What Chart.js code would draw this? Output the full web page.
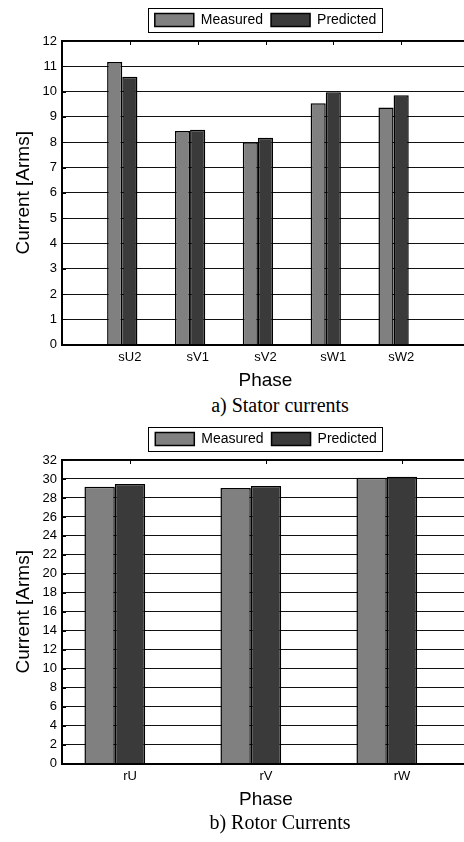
<!DOCTYPE html>
<html>
<head>
<meta charset="utf-8">
<script src="https://cdn.jsdelivr.net/npm/chart.js@4.4.1/dist/chart.umd.min.js"></script>
<style>
  html, body { margin: 0; padding: 0; background: #fff; overflow: hidden; width: 464px; height: 842px; }
  .panel { position: absolute; left: 0; }
  canvas { display: block; }
  .caption {
    position: absolute; left: 0; width: 560px; text-align: center;
    font-family: "Liberation Serif", "Times New Roman", serif; font-size: 20px; line-height: 24px; color: #000;
  }
</style>
</head>
<body>
<div class="panel" style="top:0"><canvas id="statorChart" width="474" height="392"></canvas></div>
<div class="caption" style="top:393px">a) Stator currents</div>
<div class="panel" style="top:419px"><canvas id="rotorChart" width="474" height="392"></canvas></div>
<div class="caption" style="top:810px">b) Rotor Currents</div>

<script>
// Stator currents (A rms) per phase
const statorPhases = ['sU2', 'sV1', 'sV2', 'sW1', 'sW2'];
const statorMeasured = [11.17, 8.44, 8.00, 9.54, 9.37];
const statorPredicted = [10.59, 8.49, 8.18, 9.97, 9.86];
const statorMax = 12;
const statorStep = 1;

// Rotor currents (A rms) per phase
const rotorPhases = ['rU', 'rV', 'rW'];
const rotorMeasured = [29.17, 29.05, 30.14];
const rotorPredicted = [29.46, 29.26, 30.24];
const rotorMax = 32;
const rotorStep = 2;

const seriesNames = ['Measured', 'Predicted'];

Chart.defaults.font.family = '"Liberation Sans", Arial, sans-serif';
Chart.defaults.color = '#000';

// box around the legend, like the matlab legend
const legendFrame = {
    id: 'legendFrame',
    afterDraw(chart) {
        const boxes = chart.legend.legendHitBoxes;
        if (!boxes || !boxes.length) return;
        const left = Math.min(...boxes.map(b => b.left)) - 7;
        const right = Math.max(...boxes.map(b => b.left + b.width)) + 6;
        const top = boxes[0].top - 5;
        const bottom = boxes[0].top + boxes[0].height + 5;
        const ctx = chart.ctx;
        ctx.save();
        ctx.strokeStyle = '#000';
        ctx.lineWidth = 1;
        ctx.strokeRect(Math.round(left) + 0.5, Math.round(top) + 0.5, Math.round(right - left), Math.round(bottom - top));
        ctx.restore();
    }
};

// small inward tick marks on the left and top of the axes box
const innerTicks = {
    id: 'innerTicks',
    afterDatasetsDraw(chart) {
        const {ctx, chartArea, scales} = chart;
        const x = scales.x, y = scales.y;
        ctx.save();
        ctx.strokeStyle = '#000';
        ctx.lineWidth = 1;
        ctx.beginPath();
        y.ticks.forEach((t, i) => {
            const py = Math.round(y.getPixelForTick(i)) + 0.5;
            ctx.moveTo(chartArea.left, py);
            ctx.lineTo(chartArea.left + 4, py);
        });
        x.ticks.forEach((t, i) => {
            if (!chart.data.labels[t.value]) return;
            const px = Math.round(x.getPixelForTick(i)) + 0.5;
            ctx.moveTo(px, chartArea.top);
            ctx.lineTo(px, chartArea.top + 4);
        });
        ctx.stroke();
        ctx.restore();
    }
};

function makeChart(canvasId, labels, measured, predicted, yMax, yStep, xOffset) {
    const ctx = document.getElementById(canvasId).getContext('2d');
    return new Chart(ctx, {
        type: 'bar',
        data: {
            labels: labels,
            datasets: [{
                label: seriesNames[0],
                data: measured,
                backgroundColor: '#808080',
                borderColor: '#000',
                borderWidth: 1.5
            }, {
                label: seriesNames[1],
                data: predicted,
                backgroundColor: '#3a3a3a',
                borderColor: '#000',
                borderWidth: 1.5
            }, {
                // empty third column of the bar group
                label: '',
                data: labels.map(() => null),
                backgroundColor: 'rgba(0,0,0,0)',
                borderWidth: 0
            }]
        },
        options: {
            responsive: false,
            animation: false,
            devicePixelRatio: 1,
            categoryPercentage: 0.67,
            barPercentage: 1,
            layout: {
                padding: { top: 5, left: 0, right: 4, bottom: 0 }
            },
            plugins: {
                legend: {
                    position: 'top',
                    fullSize: false,
                    labels: {
                        boxWidth: 39,
                        boxHeight: 13,
                        padding: 8,
                        color: '#000',
                        font: { size: 14 },
                        filter: item => item.text !== ''
                    }
                },
                tooltip: { enabled: false }
            },
            scales: {
                x: {
                    type: 'category',
                    offset: xOffset,
                    grid: { display: false, drawTicks: false },
                    border: { display: true, color: '#000', width: 2 },
                    ticks: { font: { size: 13 }, padding: 5, autoSkip: false, maxRotation: 0 },
                    title: {
                        display: true,
                        text: 'Phase',
                        font: { size: 19 },
                        padding: { top: -1, bottom: 0 }
                    }
                },
                x2: {
                    type: 'category',
                    position: 'top',
                    offset: xOffset,
                    grid: { display: false, drawTicks: false },
                    ticks: { display: false },
                    border: { display: true, color: '#000', width: 1.5 },
                    afterFit: scale => { scale.height = 4; }
                },
                y: {
                    min: 0,
                    max: yMax,
                    ticks: { stepSize: yStep, font: { size: 13 }, padding: 5 },
                    grid: { color: '#111', lineWidth: 1, drawTicks: false },
                    border: { display: true, color: '#000', width: 2 },
                    title: {
                        display: true,
                        text: 'Current [Arms]',
                        font: { size: 19 },
                        padding: { top: 12, bottom: 0 }
                    },
                    afterFit: scale => { scale.width = 62; }
                }
            }
        },
        plugins: [legendFrame, innerTicks]
    });
}

// stator axis runs from 0 to 6 with the phases at 1..5
const statorLabels = ['', ...statorPhases, ''];
makeChart('statorChart', statorLabels,
    [null, ...statorMeasured, null], [null, ...statorPredicted, null],
    statorMax, statorStep, false);

makeChart('rotorChart', rotorPhases, rotorMeasured, rotorPredicted,
    rotorMax, rotorStep, true);
</script>
</body>
</html>
